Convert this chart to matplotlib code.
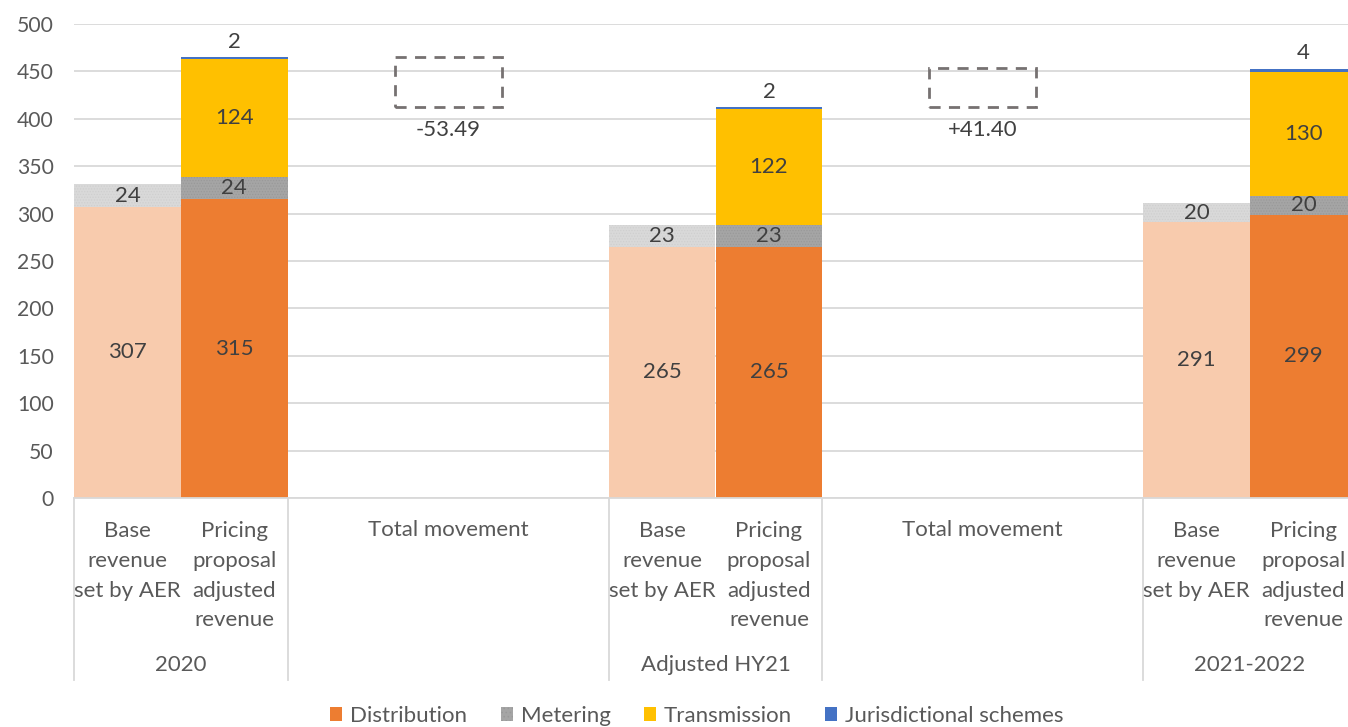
import matplotlib
matplotlib.use("Agg")
import matplotlib.pyplot as plt
from matplotlib.lines import Line2D
from matplotlib.patches import Patch
import numpy as np

plt.rcParams['font.family'] = ['Lato', 'DejaVu Sans']
plt.rcParams['hatch.linewidth'] = 0.6

# ---- data ----
groups = ["2020", "Adjusted HY21", "2021-2022"]
bar_labels = ["Base\nrevenue\nset by AER", "Pricing\nproposal\nadjusted\nrevenue"]
movement_label = "Total movement"
series = ["Distribution", "Metering", "Transmission", "Jurisdictional schemes"]

base_distribution = [307, 265, 291]
base_metering = [24, 23, 20]
pricing_distribution = [315, 265, 299]
pricing_metering = [24, 23, 20]
pricing_transmission = [124, 122, 130]
pricing_jurisdictional = [2, 2, 4]
movements = [-53.49, 41.40]
movement_text = ["-53.49", "+41.40"]

# ---- styles ----
c_dist = "#ED7D31"
c_dist_light = "#F8CBAD"
c_met = "#A5A5A5"
c_met_light = "#D9D9D9"
c_trans = "#FFC000"
c_jur = "#4472C4"
txt = "#595959"
lbl = "#404040"

W, H = 1348, 727
fig = plt.figure(figsize=(W / 100, H / 100), dpi=100)
left, right, bottom, top = 74, 1357, 498, 24
ax = fig.add_axes([left / W, (H - bottom) / H, (right - left) / W, (bottom - top) / H])

# slot positions: group bars and movement slots
base_x = [0, 5, 10]
pricing_x = [1, 6, 11]
move_x = [3, 8]

# base bars
ax.bar(base_x, base_distribution, width=1.0, color=c_dist_light, linewidth=0, zorder=2)
ax.bar(base_x, base_metering, bottom=base_distribution, width=1.0, color=c_met_light,
       edgecolor="#CFCFCF", hatch="......", linewidth=0, zorder=2)

# pricing bars
b1 = np.array(pricing_distribution)
b2 = b1 + np.array(pricing_metering)
b3 = b2 + np.array(pricing_transmission)
tot = b3 + np.array(pricing_jurisdictional)
ax.bar(pricing_x, pricing_distribution, width=1.0, color=c_dist, linewidth=0, zorder=2)
ax.bar(pricing_x, pricing_metering, bottom=b1, width=1.0, color=c_met,
       edgecolor="#999999", hatch="......", linewidth=0, zorder=2)
ax.bar(pricing_x, pricing_transmission, bottom=b2, width=1.0, color=c_trans, linewidth=0, zorder=2)
ax.bar(pricing_x, pricing_jurisdictional, bottom=b3, width=1.0, color=c_jur, linewidth=0, zorder=2)

# data labels
fs = 16
for i in range(3):
    ax.text(base_x[i], base_distribution[i] / 2, str(base_distribution[i]), ha="center", va="center",
            fontsize=fs, color=lbl, zorder=3)
    ax.text(base_x[i], base_distribution[i] + base_metering[i] / 2, str(base_metering[i]),
            ha="center", va="center", fontsize=fs, color=lbl, zorder=3)
    ax.text(pricing_x[i], pricing_distribution[i] / 2, str(pricing_distribution[i]), ha="center",
            va="center", fontsize=fs, color=lbl, zorder=3)
    ax.text(pricing_x[i], b1[i] + pricing_metering[i] / 2, str(pricing_metering[i]), ha="center",
            va="center", fontsize=fs, color=lbl, zorder=3)
    ax.text(pricing_x[i], b2[i] + pricing_transmission[i] / 2, str(pricing_transmission[i]),
            ha="center", va="center", fontsize=fs, color=lbl, zorder=3)
    ax.annotate(str(pricing_jurisdictional[i]), (pricing_x[i], tot[i]), xytext=(0, 4),
                textcoords="offset points", ha="center", va="bottom", fontsize=fs, color=lbl)

# movement boxes
for j, mv in enumerate(movements):
    lo = min(tot[j], tot[j + 1])
    ax.bar(move_x[j], abs(mv), bottom=lo, width=1.0, fill=False, edgecolor="#767171",
           linestyle=(0, (4, 3)), linewidth=2, zorder=2)
    ax.annotate(movement_text[j], (move_x[j], lo), xytext=(0, -9), textcoords="offset points",
                ha="center", va="top", fontsize=fs, color=lbl)

# axes styling
ax.set_ylim(0, 500)
ax.set_xlim(-0.5, 11.5)
ax.set_yticks(np.arange(0, 501, 50))
ax.tick_params(axis="y", length=0, labelsize=15.2, labelcolor=txt, pad=14.5)
ax.set_xticks([])
ax.grid(axis="y", color="#D9D9D9", linewidth=1.3, zorder=0)
ax.set_axisbelow(True)
for s in ["top", "right", "left"]:
    ax.spines[s].set_visible(False)
ax.spines["bottom"].set_color("#D9D9D9")
ax.spines["bottom"].set_linewidth(1.3)

# category axis (multi-level)
px = 1.0 / (bottom - top)
sep_bottom = -(680 - bottom) * px
for xs in [-0.5, 1.5, 4.5, 6.5, 9.5]:
    ax.add_line(Line2D([xs, xs], [0, sep_bottom], transform=ax.get_xaxis_transform(),
                       color="#D9D9D9", linewidth=1.3, clip_on=False))

tr = ax.get_xaxis_transform()
y_first = -(530 - bottom) * px
for i in range(3):
    for xx, lab in ((base_x[i], bar_labels[0]), (pricing_x[i], bar_labels[1])):
        ax.text(xx, y_first + 9 * px, lab, transform=tr, ha="center", va="top",
                fontsize=fs, color=txt, linespacing=1.61)
    ax.text((base_x[i] + pricing_x[i]) / 2, -(665 - bottom) * px, groups[i], transform=tr,
            ha="center", va="center", fontsize=fs, color=txt)
for j in range(2):
    ax.text(move_x[j], y_first, movement_label, transform=tr, ha="center", va="center",
            fontsize=fs, color=txt)

handles = [Patch(facecolor=c_dist), Patch(facecolor=c_met, hatch="....", edgecolor="#999999", linewidth=0),
           Patch(facecolor=c_trans), Patch(facecolor=c_jur)]
fig.legend(handles, series, loc="center", bbox_to_anchor=(697 / W, (H - 716) / H), ncol=4, frameon=False,
           fontsize=fs, labelcolor=txt, handlelength=0.55, handleheight=0.55, handletextpad=0.35,
           columnspacing=1.5)

fig.savefig("out.png", dpi=100)
